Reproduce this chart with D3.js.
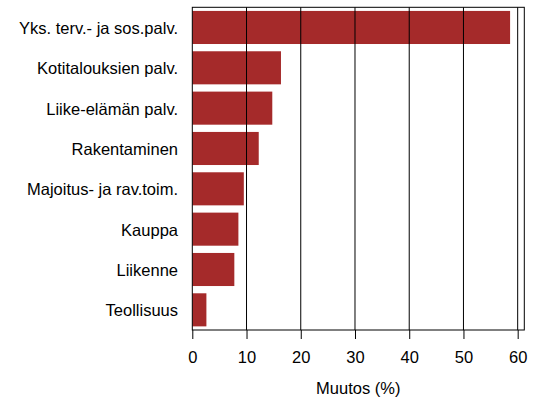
<!DOCTYPE html>
<html><head><meta charset="utf-8">
<script src="https://cdn.jsdelivr.net/npm/d3@7"></script>
<style>body{margin:0;background:#fff}svg{display:block}text{font-family:"Liberation Sans",Arial,sans-serif}</style>
</head><body>
<script>
const categories = ["Yks. terv.- ja sos.palv.","Kotitalouksien palv.","Liike-elämän palv.","Rakentaminen","Majoitus- ja rav.toim.","Kauppa","Liikenne","Teollisuus"];
const values = [58.6, 16.35, 14.75, 12.25, 9.5, 8.5, 7.75, 2.6];
const xTicks = [0,10,20,30,40,50,60];
const xTitle = "Muutos (%)";

const W=535,H=400, L=192.3, R=524.3, T=7.3, B=330;
const FS=16.5;
const svg=d3.select("body").append("svg").attr("width",W).attr("height",H);
const x=d3.scaleLinear().domain([0,61.22]).range([L,R]);
const y=d3.scaleBand().domain(categories).range([T,B]).paddingInner(0.18).paddingOuter(0.09);

svg.append("g").selectAll("rect").data(values).join("rect")
  .attr("x",x(0)).attr("y",(d,i)=>y(categories[i]))
  .attr("width",d=>x(d)-x(0)).attr("height",y.bandwidth())
  .attr("fill","#a52a2a");

svg.append("g").selectAll("line").data(xTicks.slice(1)).join("line")
  .attr("x1",d=>x(d)).attr("x2",d=>x(d)).attr("y1",T).attr("y2",B)
  .attr("stroke","#000").attr("stroke-width",1);

svg.append("rect").attr("x",L).attr("y",T).attr("width",R-L).attr("height",B-T)
  .attr("fill","none").attr("stroke","#000").attr("stroke-width",1);

const xa=svg.append("g").attr("transform",`translate(0,${B})`)
  .call(d3.axisBottom(x).tickValues(xTicks).tickSize(9).tickFormat(d3.format("d")));
xa.select(".domain").remove();
xa.selectAll("line").attr("stroke","#000");
xa.selectAll("text").attr("y",33).attr("dy",0).attr("font-size",FS).attr("fill","#000")
  .attr("font-family","Liberation Sans, Arial, sans-serif");

svg.append("g").selectAll("text").data(categories).join("text")
  .attr("x",178).attr("y",d=>y(d)+y.bandwidth()/2).attr("dy","0.4em")
  .attr("text-anchor","end").attr("font-size",FS).attr("fill","#000").text(d=>d);

svg.append("text").attr("x",(L+R)/2).attr("y",394).attr("text-anchor","middle")
  .attr("font-size",FS).attr("fill","#000").text(xTitle);
</script>
</body></html>
